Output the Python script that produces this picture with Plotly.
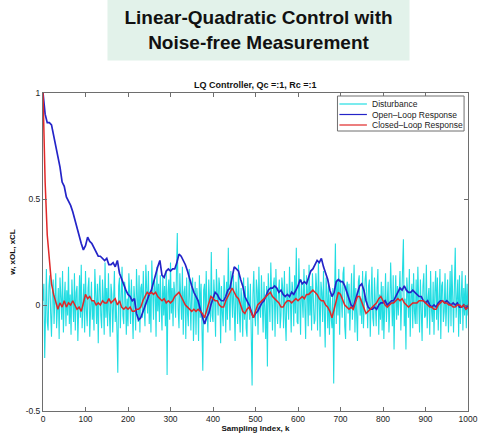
import plotly.graph_objects as go

# Disturbance w(k), sampled every 2 steps
disturbance = [
    0.02, 0.10, -0.25, 0.05, 0.17, -0.08, -0.12, 0.09, 0.14, -0.04,
    -0.15, 0.06, 0.12, -0.09, 0.03, 0.15, -0.11, -0.02, 0.08, -0.16,
    0.13, 0.04, -0.07, 0.16, -0.13, 0.02, 0.11, -0.10, 0.07, -0.05,
    0.18, -0.09, 0.05, -0.14, 0.12, 0.01, -0.08, 0.15, -0.12, 0.06,
    0.09, -0.17, 0.03, 0.14, -0.06, 0.19, -0.11, -0.03, 0.10, -0.13,
    0.16, -0.02, -0.10, 0.08, 0.13, -0.15, 0.04, 0.11, -0.07, 0.02,
    -0.12, 0.17, 0.05, -0.09, 0.10, -0.18, 0.07, 0.14, -0.05, -0.11,
    0.12, 0.03, -0.14, 0.20, -0.06, 0.08, -0.10, 0.15, -0.03, -0.15,
    0.10, 0.05, -0.13, 0.06, 0.16, -0.08, 0.02, -0.12, -0.32, 0.09,
    0.13, -0.11, 0.04, 0.18, -0.05, -0.09, 0.11, 0.07, -0.14, 0.03,
    -0.10, 0.15, 0.06, -0.09, 0.12, -0.04, -0.16, 0.09, 0.02, -0.12,
    0.17, 0.04, -0.08, 0.14, -0.13, 0.08, 0.10, -0.06, 0.16, -0.02,
    -0.10, 0.19, 0.07, -0.04, 0.16, -0.09, 0.05, -0.13, 0.21, 0.03,
    -0.07, 0.12, 0.08, -0.15, 0.18, -0.03, 0.10, -0.08, 0.14, 0.01,
    -0.12, 0.14, -0.05, 0.09, -0.10, 0.16, -0.33, 0.06, 0.12, -0.07,
    0.20, -0.04, 0.08, -0.10, 0.11, 0.05, -0.06, 0.15, 0.34, -0.02,
    -0.11, 0.15, 0.03, -0.07, 0.18, -0.14, 0.06, 0.09, -0.16, 0.13,
    -0.04, -0.10, 0.17, 0.02, -0.12, 0.08, 0.13, -0.17, 0.05, 0.11,
    -0.14, 0.08, 0.02, -0.17, 0.14, -0.06, 0.10, -0.12, -0.31, 0.07,
    0.10, -0.09, 0.16, -0.03, -0.13, 0.12, 0.04, -0.08, 0.25, -0.05,
    -0.08, 0.12, 0.03, -0.15, 0.17, -0.02, -0.05, 0.13, 0.08, -0.18,
    0.09, -0.04, -0.10, 0.14, 0.06, -0.13, 0.11, -0.07, 0.27, 0.02,
    -0.12, 0.16, 0.04, -0.06, 0.14, -0.11, -0.17, 0.11, 0.05, -0.09,
    0.19, -0.03, -0.13, 0.08, 0.02, -0.15, 0.13, -0.07, 0.09, -0.11,
    -0.15, 0.13, 0.06, -0.07, 0.10, -0.12, -0.38, 0.05, 0.16, -0.04,
    -0.10, 0.12, 0.07, -0.14, 0.18, -0.02, -0.06, 0.14, 0.03, -0.13,
    0.11, -0.05, -0.16, 0.09, -0.29, 0.15, 0.04, -0.08, 0.20, -0.03,
    -0.12, 0.09, 0.13, -0.15, 0.17, 0.01, -0.09, 0.06, 0.12, -0.11,
    -0.05, 0.13, 0.08, -0.11, 0.16, -0.06, -0.17, 0.10, 0.03, -0.07,
    0.18, -0.02, -0.13, 0.11, 0.06, -0.10, 0.14, -0.04, 0.27, -0.08,
    -0.09, 0.22, 0.05, -0.14, 0.12, -0.03, -0.06, 0.17, 0.02, -0.16,
    0.14, 0.07, -0.10, 0.19, -0.05, 0.09, -0.12, 0.15, 0.04, -0.09,
    -0.07, 0.15, 0.08, -0.12, 0.20, -0.04, -0.15, 0.11, 0.06, -0.08,
    0.16, -0.03, -0.20, 0.13, 0.07, -0.11, 0.10, -0.14, 0.05, -0.06,
    -0.11, 0.08, -0.37, 0.04, 0.29, -0.09, 0.12, -0.05, 0.17, -0.14,
    0.12, 0.03, -0.06, 0.15, 0.18, -0.10, -0.16, 0.08, 0.11, -0.04,
    0.10, -0.12, 0.06, 0.15, -0.07, 0.02, 0.19, -0.13, 0.08, -0.09,
    -0.17, 0.11, 0.14, -0.05, 0.03, -0.09, 0.16, -0.11, 0.07, 0.12,
    0.16, -0.08, -0.11, 0.09, 0.12, -0.15, 0.04, 0.18, -0.06, -0.10,
    0.13, 0.02, -0.10, 0.08, 0.17, -0.14, 0.05, -0.07, 0.11, -0.12,
    0.09, -0.16, 0.07, 0.15, -0.08, 0.03, 0.11, -0.13, -0.02, 0.20,
    0.06, -0.10, 0.14, -0.21, 0.02, 0.14, -0.07, 0.09, -0.05, 0.13,
    0.16, -0.12, 0.05, 0.08, 0.31, -0.10, 0.03, -0.21, 0.13, 0.06,
    -0.06, 0.17, -0.15, 0.04, 0.10, -0.11, 0.15, -0.03, -0.09, 0.12,
    -0.09, 0.18, 0.05, -0.13, 0.12, -0.04, -0.17, 0.09, 0.15, -0.06,
    -0.05, 0.19, -0.11, 0.03, 0.08, -0.14, 0.16, -0.02, -0.08, 0.11,
    -0.14, 0.06, 0.16, -0.07, 0.13, -0.12, 0.04, 0.17, -0.16, 0.09,
    0.11, -0.08, -0.03, 0.15, -0.10, 0.07, 0.12, -0.13, 0.02, 0.16,
    -0.10, 0.19, 0.04, -0.13, 0.09, 0.27, -0.06, 0.05, 0.12, -0.15,
    0.14, -0.09, 0.03, 0.16, -0.12, 0.08, -0.05, 0.14, -0.11, 0.10,
    -0.05,
]
disturbance_step = 2

# Open-loop state xOL(k), sampled every 5 steps
open_loop = [
    1.00, 0.90, 0.86, 0.86, 0.85, 0.80, 0.74, 0.70, 0.65, 0.58,
    0.56, 0.51, 0.49, 0.47, 0.44, 0.40, 0.36, 0.33, 0.29, 0.26,
    0.28, 0.32, 0.30, 0.29, 0.27, 0.25, 0.23, 0.23, 0.22, 0.21,
    0.22, 0.19, 0.19, 0.20, 0.18, 0.21, 0.15, 0.12, 0.09, 0.07,
    0.05, 0.04, 0.02, 0.03, -0.04, -0.07, -0.06, -0.03, -0.01, 0.02,
    0.05, 0.07, 0.11, 0.15, 0.18, 0.21, 0.14, 0.13, 0.16, 0.17,
    0.16, 0.17, 0.17, 0.20, 0.24, 0.23, 0.21, 0.19, 0.16, 0.12,
    0.09, 0.06, 0.04, 0.02, -0.02, -0.05, -0.09, -0.06, -0.04, 0.00,
    0.03, 0.06, 0.05, 0.03, 0.02, 0.02, 0.04, 0.07, 0.08, 0.13,
    0.18, 0.17, 0.16, 0.12, 0.09, 0.04, 0.02, 0.00, -0.03, -0.06,
    -0.04, -0.03, -0.01, 0.01, 0.02, 0.05, 0.07, 0.08, 0.08, 0.09,
    0.08, 0.06, 0.07, 0.05, 0.04, 0.05, 0.04, 0.06, 0.05, 0.07,
    0.09, 0.12, 0.10, 0.11, 0.10, 0.13, 0.16, 0.17, 0.19, 0.21,
    0.20, 0.22, 0.18, 0.15, 0.12, 0.07, 0.04, 0.06, 0.11, 0.12,
    0.11, 0.11, 0.09, 0.06, 0.03, 0.00, -0.01, 0.02, 0.06, 0.09,
    0.10, 0.07, 0.02, -0.01, -0.02, -0.02, -0.01, -0.02, 0.00, 0.01,
    0.01, 0.02, 0.00, 0.01, 0.02, 0.02, 0.04, 0.06, 0.08, 0.07,
    0.09, 0.07, 0.06, 0.06, 0.07, 0.06, 0.05, 0.04, 0.04, 0.02,
    0.01, 0.02, 0.00, -0.01, 0.00, -0.01, 0.01, 0.02, 0.02, 0.01,
    0.02, 0.01, 0.00, 0.01, 0.00, 0.01, -0.01, -0.01, 0.00, -0.02,
    0.00,
]

# Closed-loop state xCL(k), sampled every 5 steps
closed_loop = [
    1.00, 0.58, 0.33, 0.19, 0.10, 0.05, 0.01, -0.02, 0.01, -0.01,
    0.02, -0.01, 0.01, 0.00, 0.02, 0.00, -0.02, -0.01, -0.03, 0.01,
    0.05, 0.03, 0.04, 0.02, 0.02, 0.00, 0.01, 0.00, 0.02, 0.01,
    0.01, 0.03, 0.01, 0.02, 0.03, 0.00, 0.02, -0.01, -0.02, -0.01,
    -0.02, -0.01, -0.03, -0.03, -0.02, -0.02, -0.01, 0.02, 0.04, 0.06,
    0.05, 0.06, 0.05, 0.06, 0.04, 0.03, 0.02, 0.03, 0.01, 0.02,
    0.01, 0.02, 0.04, 0.05, 0.06, 0.04, 0.02, 0.00, -0.01, -0.02,
    -0.03, -0.02, -0.03, -0.02, -0.03, -0.04, -0.06, -0.03, 0.01, 0.04,
    0.03, 0.02, 0.02, 0.00, -0.01, -0.01, 0.02, 0.04, 0.06, 0.08,
    0.06, 0.04, 0.03, 0.00, -0.03, -0.04, -0.02, -0.01, -0.04, -0.06,
    -0.03, 0.00, 0.01, 0.02, 0.03, 0.04, 0.05, 0.06, 0.04, 0.03,
    0.02, 0.01, -0.01, -0.01, 0.01, 0.02, 0.02, 0.01, 0.02, 0.03,
    0.02, 0.03, 0.04, 0.03, 0.05, 0.05, 0.06, 0.07, 0.06, 0.05,
    0.03, 0.02, 0.02, 0.00, -0.01, -0.03, -0.06, -0.02, 0.03, 0.06,
    0.05, 0.02, 0.00, -0.01, -0.02, -0.01, -0.02, 0.01, 0.04, 0.04,
    0.01, -0.02, -0.04, -0.03, -0.02, -0.01, 0.00, 0.01, 0.03, 0.04,
    0.02, 0.00, -0.01, 0.00, 0.01, 0.01, 0.02, 0.03, 0.02, 0.03,
    0.01, 0.00, -0.01, 0.00, 0.01, 0.01, 0.01, 0.02, 0.02, 0.02,
    0.01, 0.00, -0.01, -0.01, -0.02, -0.02, 0.00, 0.01, 0.02, 0.01,
    0.01, 0.00, 0.00, -0.01, -0.01, 0.00, 0.00, -0.01, 0.00, -0.02,
    -0.01,
]
state_step = 5

series_names = ["Disturbance", "Open\u2013Loop Response", "Closed\u2013Loop Response"]
series_colors = ["#22dde2", "#2424c8", "#e02828"]

x_ticks = [0, 100, 200, 300, 400, 500, 600, 700, 800, 900, 1000]
y_ticks = [-0.5, 0, 0.5, 1]
y_tick_text = ["-0.5", "0", "0.5", "1"]

k_dist = [disturbance_step * i for i in range(len(disturbance))]
k_ol = [state_step * i for i in range(len(open_loop))]
k_cl = [state_step * i for i in range(len(closed_loop))]

font_family = "Liberation Sans, Arial, sans-serif"
frame_color = "#6e6e6e"
text_color = "#222"

W, H = 490, 445
M_L, M_R, M_T, M_B = 42, 15, 93, 34
PLOT_W = W - M_L - M_R
PLOT_H = H - M_T - M_B


def px_x(p):
    """Horizontal page pixel -> paper fraction."""
    return (p - M_L) / PLOT_W


def px_y(p):
    """Vertical page pixel -> paper fraction."""
    return (H - M_B - p) / PLOT_H


fig = go.Figure()
fig.add_trace(go.Scatter(x=k_dist, y=disturbance, mode="lines", name=series_names[0],
                         line=dict(color=series_colors[0], width=1.1)))
fig.add_trace(go.Scatter(x=k_ol, y=open_loop, mode="lines", name=series_names[1],
                         line=dict(color=series_colors[1], width=1.7)))
fig.add_trace(go.Scatter(x=k_cl, y=closed_loop, mode="lines", name=series_names[2],
                         line=dict(color=series_colors[2], width=1.5)))

axis_common = dict(
    showgrid=False, zeroline=False, showline=True, linecolor=frame_color, linewidth=1,
    mirror="ticks", ticks="inside", ticklen=4, tickcolor=frame_color,
    tickfont=dict(size=8.5, color=text_color, family=font_family),
)

fig.update_xaxes(range=[0, 1000], tickvals=x_ticks,
                 title=dict(text="<b>Sampling Index, k</b>",
                            font=dict(size=8, color="#111", family=font_family), standoff=2),
                 **axis_common)
fig.update_yaxes(range=[-0.5, 1], tickvals=y_ticks, ticktext=y_tick_text,
                 title=dict(text="<b>w, xOL, xCL</b>",
                            font=dict(size=8, color="#111", family=font_family), standoff=8),
                 **axis_common)

# Compact boxed legend in the upper-right corner of the axes
legend_box = (342, 96, 471, 131)
legend_rows = [104, 114.5, 125]
shapes = [dict(type="rect", xref="paper", yref="paper",
               x0=px_x(legend_box[0]), x1=px_x(legend_box[2]),
               y0=px_y(legend_box[3]), y1=px_y(legend_box[1]),
               line=dict(color=frame_color, width=1), fillcolor="white", layer="above")]
annotations = []
for name, color, row in zip(series_names, series_colors, legend_rows):
    shapes.append(dict(type="line", xref="paper", yref="paper",
                       x0=px_x(344), x1=px_x(372), y0=px_y(row), y1=px_y(row),
                       line=dict(color=color, width=1.2), layer="above"))
    annotations.append(dict(text=name, xref="paper", yref="paper",
                            x=px_x(375), y=px_y(row), xanchor="left", yanchor="middle",
                            showarrow=False, font=dict(size=8.5, color=text_color, family=font_family)))

annotations += [
    dict(text="<b>Linear-Quadratic Control with<br>Noise-free Measurement</b>",
         xref="paper", yref="paper", x=px_x(261.5), y=px_y(30), xanchor="center", yanchor="middle",
         showarrow=False, width=301, height=60, bgcolor="#e2f2ea", borderpad=0,
         font=dict(size=19, color="#111", family=font_family)),
    dict(text="<b>LQ Controller, Qc =:1, Rc =:1</b>",
         xref="paper", yref="paper", x=px_x(258), y=px_y(85), xanchor="center", yanchor="middle",
         showarrow=False, font=dict(size=9, color="#111", family=font_family)),
]

fig.update_layout(
    width=W, height=H,
    margin=dict(l=M_L, r=M_R, t=M_T, b=M_B),
    paper_bgcolor="white", plot_bgcolor="white",
    font=dict(family=font_family),
    showlegend=False,
    shapes=shapes,
    annotations=annotations,
)

fig.write_html("out.html")
